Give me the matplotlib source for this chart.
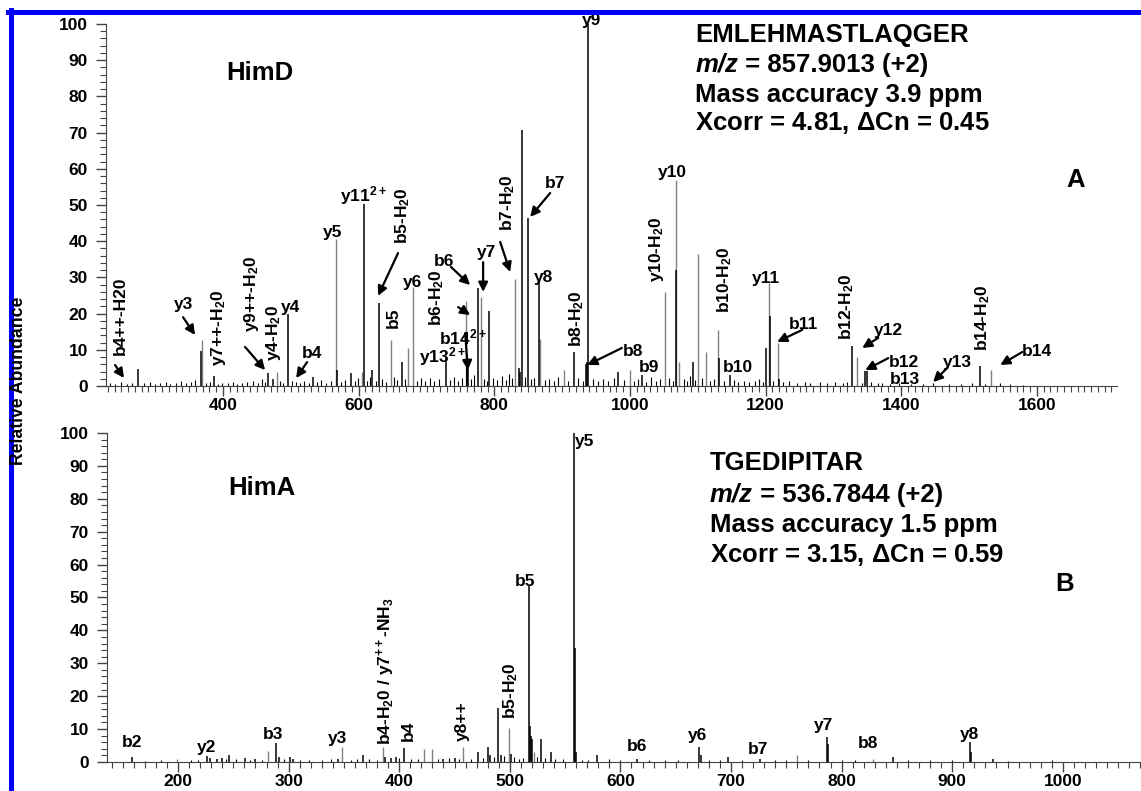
import numpy as np
import matplotlib
matplotlib.use("Agg")
import matplotlib.pyplot as plt
from matplotlib.lines import Line2D
from matplotlib.ticker import MultipleLocator

plt.rcParams['font.family'] = ['Liberation Sans', 'DejaVu Sans']
plt.rcParams['font.weight'] = 'bold'
plt.rcParams['mathtext.fontset'] = 'custom'
plt.rcParams['mathtext.rm'] = 'Liberation Sans:bold'
plt.rcParams['mathtext.bf'] = 'Liberation Sans:bold'
plt.rcParams['mathtext.sf'] = 'Liberation Sans'
plt.rcParams['mathtext.it'] = 'Liberation Sans:italic:bold'

GRAY = '#808080'

# ---- panel A : HimD, EMLEHMASTLAQGER ----
a_mz = [275, 367.6, 369.5, 386.7, 466, 479, 473, 496.3, 532.7, 567, 568.5, 588,
        605, 608, 620, 629.6, 647, 664, 672.4, 680.7, 728, 758.4, 759.5, 760.4,
        761.5, 776.6, 780, 792.8, 830.2, 836, 838, 840.5, 849, 866.5, 868, 902,
        917.2, 935.5, 937, 938.8, 983, 1000.3, 1017.5, 1051, 1068, 1068.5, 1072,
        1092.8, 1101, 1112.4, 1130, 1131, 1147.8, 1200.4, 1204.8, 1206.3, 1218.6,
        1220, 1327.7, 1334.6, 1346.9, 1349, 1515.5, 1532.7]
a_int = [4.6, 9.7, 12.7, 2.8, 3.5, 3.9, 2.0, 19.9, 2.5, 40.5, 4.4, 3.5,
         3.8, 50.3, 4.4, 22.8, 12.7, 6.7, 10.4, 27.3, 8.1, 23.6, 5.0, 8.0,
         6.0, 27.0, 24.7, 20.7, 29.5, 5.0, 4.0, 70.7, 46.3, 28.8, 12.9, 4.3,
         9.5, 6.0, 6.5, 100, 4.0, 4.3, 3.0, 26.0, 56.9, 32.0, 6.5,
         6.7, 36.6, 9.5, 15.6, 7.8, 3.0, 10.4, 28.4, 19.4, 11.8,
         2.0, 11.0, 8.1, 4.2, 4.2, 5.6, 4.4]
# k = black trace, g = grey trace
a_col = ("kkgkkgkkkgkk" "gkkkgkggkgkk" "kkgkgkkkkkgg"
         "kkkkkgkggkg" "kgggkkkgkg" "kkgkkkg")

a_noise = [(233, 0.8), (241, 0.5), (249, 1.0), (258, 0.6), (266, 0.9), (283, 0.7),
           (292, 1.2), (299, 0.6), (307, 0.8), (316, 1.1), (322, 0.5), (331, 0.9),
           (338, 1.3), (346, 0.7), (353, 1.0), (359, 1.6), (375, 0.8), (381, 1.2),
           (392, 0.6), (399, 0.9), (408, 0.7), (414, 1.1), (421, 0.6), (428, 0.8),
           (436, 1.0), (444, 1.4), (451, 0.7), (458, 1.8), (462, 1.2), (484, 1.3),
           (489, 0.9), (501, 1.5), (508, 1.1), (514, 0.8), (520, 1.3), (526, 0.7),
           (538, 1.2), (545, 1.6), (552, 0.9), (559, 1.4), (574, 1.1), (580, 1.7),
           (594, 1.3), (599, 2.2), (612, 1.4), (616, 2.6), (625, 1.5), (634, 2.0),
           (640, 1.2), (652, 2.4), (657, 1.6), (668, 1.9), (686, 1.3), (692, 2.1),
           (698, 1.4), (705, 2.3), (711, 1.5), (718, 2.0), (735, 1.7), (741, 2.5),
           (747, 1.4), (752, 2.2), (766, 1.8), (770, 3.0), (785, 2.0), (789, 1.5),
           (798, 2.3), (804, 1.6), (811, 2.8), (817, 1.7), (822, 3.2), (826, 2.1),
           (845, 2.6), (854, 1.8), (859, 2.2), (875, 1.6), (881, 2.0), (888, 1.4),
           (894, 2.6), (909, 1.5), (924, 2.1), (931, 1.4), (946, 1.8), (953, 1.3),
           (960, 2.0), (968, 1.4), (976, 2.2), (991, 1.6), (1006, 1.3), (1012, 1.8),
           (1024, 1.2), (1031, 2.4), (1038, 1.5), (1044, 2.0), (1058, 2.2), (1063, 1.5),
           (1079, 2.0), (1084, 1.4), (1089, 2.7), (1096, 1.6), (1106, 2.3), (1118, 1.5),
           (1124, 2.0), (1138, 1.3), (1154, 1.7), (1160, 1.1), (1168, 1.5), (1176, 1.0),
           (1184, 1.4), (1190, 2.0), (1196, 1.2), (1211, 1.5), (1226, 1.0), (1235, 1.3),
           (1246, 0.8), (1258, 1.1), (1266, 0.7), (1280, 1.0), (1291, 0.8), (1302, 1.2),
           (1314, 0.7), (1320, 1.0), (1342, 0.9), (1356, 1.1), (1365, 0.7), (1372, 0.9),
           (1384, 0.6), (1396, 0.8), (1415, 0.6), (1432, 0.5), (1447, 0.9), (1470, 0.5),
           (1488, 0.6), (1505, 0.7), (1524, 0.6), (1545, 0.8), (1560, 0.5), (1580, 0.4)]

a_labels = [("b4++-H20", 248, 19.3, 90), ("y3", 341, 22.4, 0),
            ("y7++-H$_2$0", 392.6, 16, 90), ("y9++-H$_2$0", 441.3, 25.4, 90),
            ("y4-H$_2$0", 475, 14.6, 90), ("y4", 498.8, 21.8, 0), ("b4", 531, 9.1, 0),
            ("y5", 562, 42.3, 0), ("y11$^{2+}$", 606.5, 52.5, 0),
            ("b5-H$_2$0", 665.5, 47.2, 90), ("b5", 650.7, 18.8, 90), ("y6", 678.8, 28.5, 0),
            ("b6-H$_2$0", 715, 24.5, 90), ("b6", 726, 34.5, 0), ("b14$^{2+}$", 754, 13.5, 0),
            ("y13$^{2+}$", 723, 8, 0), ("y7", 788, 37, 0), ("b7-H$_2$0", 818.9, 50.8, 90),
            ("b7", 889.7, 56, 0), ("y8", 872, 30.1, 0), ("b8-H$_2$0", 922, 18.5, 90),
            ("y9", 944, 101, 0), ("b8", 1004.7, 9.4, 0), ("b9", 1028, 5, 0),
            ("y10-H$_2$0", 1038.6, 37.8, 90), ("y10", 1062, 59, 0),
            ("b10-H$_2$0", 1139, 29.3, 90), ("b10", 1159.6, 5, 0), ("y11", 1201, 29.6, 0),
            ("b11", 1255.4, 17, 0), ("b12-H$_2$0", 1320, 21.8, 90), ("y12", 1380.8, 15.2, 0),
            ("b12", 1404, 6.4, 0), ("b13", 1406, 1.7, 0), ("y13", 1482.6, 6.4, 0),
            ("b14-H$_2$0", 1519.5, 18.8, 90), ("b14", 1600.6, 9.4, 0)]

a_arrows = [(240.7, 5.8, 254, 2.2), (341, 19, 358.7, 14.1), (432.4, 10.8, 462, 4.4),
            (523.9, 6.6, 507.7, 2.2), (658, 36.7, 628.6, 24.9), (736, 32.9, 764.3, 27.9),
            (746.6, 21.8, 764.3, 19.6), (757, 14.6, 761, 4.4), (783.5, 34.2, 783.5, 26),
            (808.6, 39.8, 823.3, 31.5), (882.3, 53.3, 852.8, 46.7), (988, 10.5, 937, 5.8),
            (1254, 15.5, 1217, 12.2), (1366, 13.3, 1342.5, 10.5), (1380.8, 7.7, 1347, 4.4),
            (1467.8, 5, 1447, 1.1), (1578.5, 9.4, 1546, 5.8)]

a_info = ["EMLEHMASTLAQGER", " = 857.9013 (+2)",
          "Mass accuracy 3.9 ppm", r"Xcorr = 4.81, $\mathsf{\Delta}$Cn = 0.45"]

# ---- panel B : HimA, TGEDIPITAR ----
b_mz = [158.7, 199, 226, 229, 235, 240, 246, 260.6, 270, 281.6, 288.3, 291, 301, 304,
        345, 348, 367.5, 385, 387, 393, 397, 404.3, 422.4, 429.4, 440, 450, 458,
        471.5, 480.5, 482, 489, 492, 499.3, 501, 517.4, 518, 519, 520, 522, 528.2,
        537, 558, 558.6, 559.5, 578.5, 614.7, 671.4, 672.5, 697, 726, 759.6, 786.5,
        787.5, 828.4, 846.5, 916, 917, 937]
b_int = [1.4, 1.0, 1.8, 1.2, 1.0, 1.3, 2.0, 1.2, 1.0, 3.2, 5.8, 1.5, 1.5, 1.0,
         1.0, 4.7, 2.2, 4.4, 1.5, 1.3, 1.5, 4.2, 4.0, 3.9, 1.0, 1.2, 4.7,
         3.0, 4.4, 2.0, 16.5, 2.0, 10.2, 2.5, 53.4, 11.0, 8.0, 7.0, 3.0, 7.0,
         3.0, 100, 34.5, 3.0, 2.0, 1.0, 4.4, 2.0, 1.5, 1.0, 2.0, 7.5,
         5.5, 1.0, 1.5, 6.0, 3.0, 1.0]
b_col = ("kgkkkkkkkgkkkk" "kgkgkkkkggkkg" "kkkkkgkkkkkgk"
         "kkkkkkkkkkgk" "kgkkkk")

b_noise = [(170, 0.4), (185, 0.5), (212, 0.6), (218, 0.5), (243, 0.8), (252, 0.9),
           (265, 0.6), (276, 0.7), (296, 0.8), (310, 0.6), (318, 0.5), (330, 0.7),
           (338, 0.9), (356, 0.6), (362, 0.8), (373, 1.0), (380, 0.7), (400, 1.2),
           (411, 0.8), (417, 1.0), (435, 0.9), (445, 1.1), (454, 0.8), (465, 1.0),
           (476, 1.2), (486, 1.5), (495, 1.8), (504, 1.4), (508, 1.0), (512, 1.3),
           (525, 1.6), (532, 1.2), (541, 1.0), (548, 0.8), (565, 0.7), (571, 0.6),
           (590, 0.8), (600, 0.5), (626, 0.6), (640, 0.5), (652, 0.7), (680, 0.6),
           (690, 0.5), (710, 0.6), (740, 0.5), (750, 0.7), (770, 0.6), (800, 0.5),
           (812, 0.6), (860, 0.5), (880, 0.6), (900, 0.5), (950, 0.4), (990, 0.5)]

b_labels = [("b2", 158.4, 6, 0), ("y2", 226, 4.5, 0), ("b3", 286, 8.5, 0), ("y3", 343.8, 7, 0),
            ("b4-H$_2$0 / y7$^{++}$-NH$_3$", 388, 27.6, 90), ("b4", 408, 9.4, 90),
            ("y8++", 456.8, 12.4, 90), ("b5-H$_2$0", 501, 21.8, 90), ("b5", 513.7, 54.8, 0),
            ("y5", 568, 97.3, 0), ("b6", 615, 4.8, 0), ("y6", 670, 7.9, 0),
            ("b7", 724.4, 3.9, 0), ("y7", 784, 11.2, 0), ("b8", 824, 5.5, 0),
            ("y8", 916, 8.5, 0)]

b_info = ["TGEDIPITAR", " = 536.7844 (+2)",
          "Mass accuracy 1.5 ppm", r"Xcorr = 3.15, $\mathsf{\Delta}$Cn = 0.59"]

INFO_FS = 18.5


def draw_spectrum(ax, mz, inten, cols, noise):
    nm, ni = zip(*noise)
    ax.vlines(nm, 0, ni, colors='k', lw=0.8, clip_on=False)
    grey = [(m, h) for m, h, c in zip(mz, inten, cols) if c == 'g']
    black = [(m, h) for m, h, c in zip(mz, inten, cols) if c == 'k']
    gm, gh = zip(*grey)
    bm, bh = zip(*black)
    ax.vlines(gm, 0, gh, colors=GRAY, lw=1.0, clip_on=False)
    ax.vlines(bm, 0, bh, colors='k', lw=1.1, clip_on=False)


def style_axes(ax, xlim, xminor):
    ax.set_xlim(*xlim)
    ax.set_ylim(0, 100)
    for s in ['top', 'right']:
        ax.spines[s].set_visible(False)
    ax.spines['left'].set_color('#444444')
    ax.spines['bottom'].set_color('#444444')
    ax.xaxis.set_minor_locator(MultipleLocator(xminor))
    ax.yaxis.set_major_locator(MultipleLocator(10))
    ax.yaxis.set_minor_locator(MultipleLocator(2))
    ax.tick_params(which='major', direction='out', length=7, width=1, color='#444444',
                   labelsize=12.5)
    ax.tick_params(which='minor', direction='out', length=4, width=0.8, color='#444444')
    ax.tick_params(axis='y', which='major', pad=6)
    ax.tick_params(axis='x', which='major', pad=1.5)
    for lab in ax.get_xticklabels() + ax.get_yticklabels():
        lab.set_fontweight('bold')


def info_block(ax, x, ys, lines):
    for i, (txt, y) in enumerate(zip(lines, ys)):
        if i == 1:
            t = ax.text(x, y, "m/z", fontsize=INFO_FS, fontweight='bold',
                        fontstyle='italic', ha='left', va='center')
            ax.annotate(txt, xy=(1, 0.5), xycoords=t, fontsize=INFO_FS,
                        fontweight='bold', ha='left', va='center')
        else:
            ax.text(x, y, txt, fontsize=INFO_FS, fontweight='bold', ha='left', va='center')


fig = plt.figure(figsize=(11.41, 7.91), dpi=100)
axA = fig.add_axes([0.0929, 0.512, 0.886, 0.4577])
axB = fig.add_axes([0.0938, 0.0367, 0.9062, 0.4159])

draw_spectrum(axA, a_mz, a_int, a_col, a_noise)
axA.set_xticks(range(400, 1601, 200))
style_axes(axA, (227.4, 1718), 10)

draw_spectrum(axB, b_mz, b_int, b_col, b_noise)
axB.set_xticks(range(200, 1001, 100))
style_axes(axB, (135.8, 1070.7), 10)

for ax, labels in [(axA, a_labels), (axB, b_labels)]:
    for txt, x, y, rot in labels:
        ax.text(x, y, txt, rotation=rot, ha='center', va='center', fontsize=12.5,
                fontweight='bold', clip_on=False)

for x0, y0, x1, y1 in a_arrows:
    axA.annotate('', xy=(x1, y1), xytext=(x0, y0),
                 arrowprops=dict(arrowstyle='-|>', color='k', lw=1.6,
                                 mutation_scale=14, shrinkA=0, shrinkB=0))

axA.text(454.6, 86.5, "HimD", fontsize=INFO_FS, fontweight='bold', ha='center', va='center')
axA.text(1656.6, 56.9, "A", fontsize=INFO_FS, fontweight='bold', ha='center', va='center')
info_block(axA, 1096, [97, 88.7, 80.4, 72.7], a_info)

axB.text(276, 83.3, "HimA", fontsize=INFO_FS, fontweight='bold', ha='center', va='center')
axB.text(1002, 54.2, "B", fontsize=INFO_FS, fontweight='bold', ha='center', va='center')
info_block(axB, 681, [90.9, 81.2, 72.1, 63], b_info)

fig.text(19 / 1141, 1 - 381 / 791, "Relative Abundance", rotation=90, fontsize=12.7,
         fontweight='bold', ha='center', va='center')

# blue frame of the scanned figure
fig.add_artist(Line2D([10.5 / 1141, 10.5 / 1141], [0, 1 - 10 / 791], transform=fig.transFigure,
                      color='#0000ff', lw=3.6))
fig.add_artist(Line2D([8 / 1141, 1], [1 - 12 / 791, 1 - 12 / 791], transform=fig.transFigure,
                      color='#0000ff', lw=3.6))

fig.savefig("out.png", dpi=100)
